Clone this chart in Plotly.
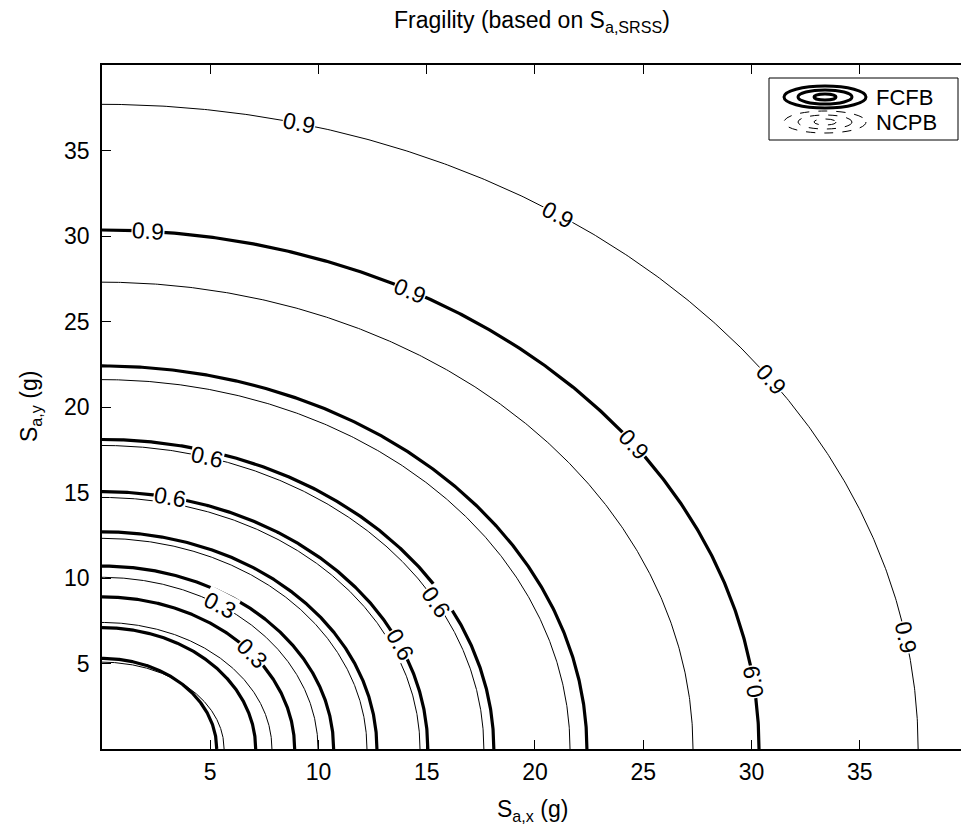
import numpy as np
import plotly.graph_objects as go

# ---- data ----
levels = [0.1, 0.2, 0.3, 0.4, 0.5, 0.6, 0.7, 0.8, 0.9]
# FCFB contour radii (g) for each probability level
fcfb_r = [5.3, 7.1, 8.9, 10.7, 12.7, 15.05, 18.1, 22.4, 30.35]
# NCPB contour semi-axes along x and y (g) for each level
ncpb_rx = [5.64, 7.85, 9.98, 12.24, 14.69, 17.64, 21.62, 27.3, 37.7]
ncpb_ry = [5.08, 7.4, 10.04, 12.32, 14.71, 17.75, 21.6, 27.3, 37.7]
# contour labels: (level index, polar angle in degrees, flipped)
fcfb_labels = [(2, 39, False), (5, 78, False), (5, 24, False),
               (8, 86, False), (8, 62, False), (8, 36, False), (8, 7.5, True)]
ncpb_labels = [(2, 57, False), (5, 74, False), (5, 29, False),
               (8, 76, False), (8, 56, False), (8, 35, False), (8, 10, False)]
x_ticks = [5, 10, 15, 20, 25, 30, 35]
y_ticks = [5, 10, 15, 20, 25, 30, 35]

# ---- layout constants ----
W, H = 961, 829
ML, MT, MB, MR = 102, 65, 80, 0
XMAX, YMAX = 39.68, 40.0
pw, ph = W - ML - MR, H - MT - MB
sx, sy = pw / XMAX, ph / YMAX
FONT = "Liberation Sans, Arial, sans-serif"
FS = 23

fig = go.Figure()
th = np.linspace(0, np.pi / 2, 400)
for r in fcfb_r:
    fig.add_trace(go.Scatter(x=r * np.cos(th), y=r * np.sin(th), mode="lines",
                             line=dict(color="black", width=3.2), showlegend=False,
                             hoverinfo="skip"))
for rx, ry in zip(ncpb_rx, ncpb_ry):
    fig.add_trace(go.Scatter(x=rx * np.cos(th), y=ry * np.sin(th), mode="lines",
                             line=dict(color="black", width=1), showlegend=False,
                             hoverinfo="skip"))

annotations = []


def add_label(rx, ry, lev, ang, flip):
    t = np.radians(ang)
    x, y = rx * np.cos(t), ry * np.sin(t)
    dx, dy = sx * rx * np.sin(t), sy * ry * np.cos(t)
    a = np.degrees(np.arctan2(dy, dx))
    if flip:
        a -= 180
    annotations.append(dict(x=x, y=y, xref="x", yref="y", text=f"{lev:.1f}",
                            showarrow=False, textangle=a, bgcolor="white",
                            borderpad=0,
                            font=dict(family=FONT, size=FS, color="black")))


for i, ang, fl in fcfb_labels:
    add_label(fcfb_r[i], fcfb_r[i], levels[i], ang, fl)
for i, ang, fl in ncpb_labels:
    add_label(ncpb_rx[i], ncpb_ry[i], levels[i], ang, fl)


def px2paper(px, py):
    return (px - ML) / pw, (H - MB - py) / ph


# title and axis titles
for txt, (px, py), ang in [("Fragility (based on S<sub>a,SRSS</sub>)", (532, 22), 0),
                           ("S<sub>a,x</sub> (g)", (532, 810), 0),
                           ("S<sub>a,y</sub> (g)", (30, 407), -90)]:
    a, b = px2paper(px, py)
    annotations.append(dict(x=a, y=b, xref="paper", yref="paper", text=txt,
                            xanchor="center", yanchor="middle", showarrow=False,
                            textangle=ang,
                            font=dict(family=FONT, size=FS, color="black")))

# legend (drawn manually to mimic MATLAB)
shapes = []
x0, y0 = px2paper(769, 78)
x1, y1 = px2paper(958, 140)
shapes.append(dict(type="rect", xref="paper", yref="paper", x0=x0, y0=y1, x1=x1, y1=y0,
                   line=dict(color="black", width=1), fillcolor="white", layer="above"))
for (cx, cy, dash, lw) in [(825, 97, "solid", 3), (825, 122, "dash", 1)]:
    for hw, hh in [(41, 11), (27, 7), (11, 3)]:
        a0, b0 = px2paper(cx - hw, cy - hh)
        a1, b1 = px2paper(cx + hw, cy + hh)
        shapes.append(dict(type="circle", xref="paper", yref="paper", x0=a0, y0=b1,
                           x1=a1, y1=b0, line=dict(color="black", width=lw, dash=dash),
                           layer="above"))
for txt, cy in [("FCFB", 97), ("NCPB", 122)]:
    a, b = px2paper(874, cy)
    annotations.append(dict(x=a, y=b, xref="paper", yref="paper", text=txt,
                            xanchor="left", yanchor="middle", showarrow=False,
                            font=dict(family=FONT, size=22, color="black")))

fig.update_layout(
    width=W, height=H, margin=dict(l=ML, r=MR, t=MT, b=MB),
    plot_bgcolor="white", paper_bgcolor="white",
    font=dict(family=FONT, size=FS, color="black"),
    annotations=annotations, shapes=shapes,
    xaxis=dict(range=[0, XMAX], tickvals=x_ticks, ticks="inside", ticklen=9,
               tickcolor="black", showline=True, linecolor="black", linewidth=1.5,
               mirror="ticks", showgrid=False, zeroline=False, ticklabelstandoff=2,
               tickfont=dict(family=FONT, size=FS, color="black")),
    yaxis=dict(range=[0, YMAX], tickvals=y_ticks, ticks="inside", ticklen=9,
               tickcolor="black", showline=True, linecolor="black", linewidth=1.5,
               mirror=False, showgrid=False, zeroline=False, ticklabelstandoff=6,
               tickfont=dict(family=FONT, size=FS, color="black")),
)
fig.write_html("out.html")
